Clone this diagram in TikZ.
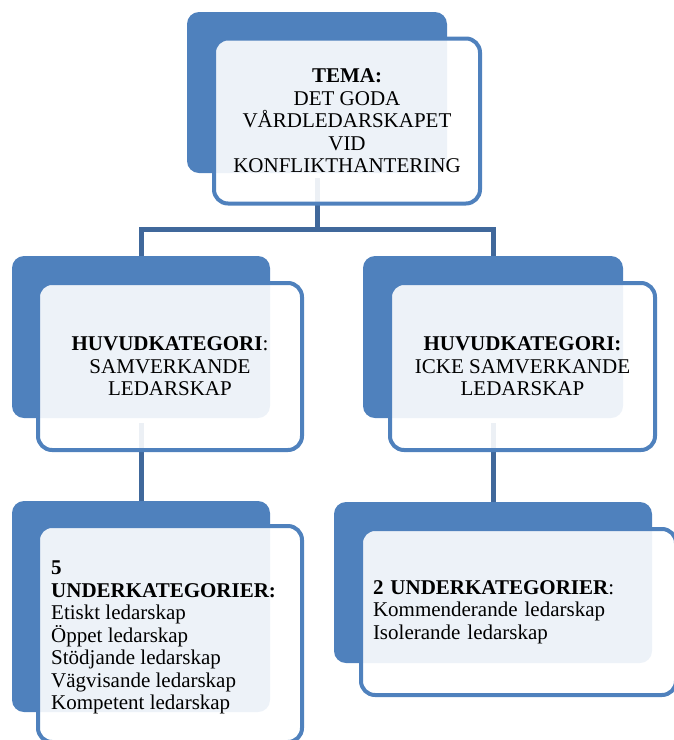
\documentclass[tikz,border=0pt]{standalone}
\usepackage{fontspec}
\setmainfont{Liberation Serif}
\pgfdeclarelayer{background}
\pgfsetlayers{background,main}
\definecolor{accblue}{RGB}{79,129,189}
\definecolor{connblue}{RGB}{64,104,155}
\tikzset{
  backbox/.style={rectangle, rounded corners=12pt, fill=accblue, inner sep=0pt},
  frontbox/.style={rectangle, rounded corners=14pt, draw=accblue, line width=4pt,
    fill=white, fill opacity=0.9, text opacity=1, draw opacity=1, inner sep=0pt,
    font=\fontsize{21}{22.5}\selectfont, text=black},
  boxtext/.style={inner sep=0pt, font=\fontsize{21}{22.5}\selectfont, text=black},
  conn/.style={draw=connblue, line width=5pt, line join=miter, line cap=rect}
}
\begin{document}
\begin{tikzpicture}[x=1pt,y=-1pt]
\useasboundingbox (0,0) rectangle (674,740);
\clip (0,0) rectangle (674,740);
% top
\node[backbox, minimum width=260pt, minimum height=161pt] (tb) at (317,92.5) {};
\node[frontbox, minimum width=266pt, minimum height=165pt, align=center] (tf) at (347,121)
  {\textbf{TEMA:}\\DET GODA\\VÅRDLEDARSKAPET\\VID\\KONFLIKTHANTERING};
% middle left
\node[backbox, minimum width=258pt, minimum height=162pt] (mlb) at (141,337) {};
\node[frontbox, minimum width=264pt, minimum height=167pt, align=center] (mlf) at (170,366.5)
  {\textbf{HUVUDKATEGORI}:\\SAMVERKANDE\\LEDARSKAP};
% middle right
\node[backbox, minimum width=260pt, minimum height=162pt] (mrb) at (493,337) {};
\node[frontbox, minimum width=265pt, minimum height=167pt, align=center] (mrf) at (522.5,366.5)
  {\textbf{HUVUDKATEGORI:}\\ICKE SAMVERKANDE\\LEDARSKAP};
% bottom left
\node[backbox, minimum width=258pt, minimum height=211pt] (blb) at (141,606.5) {};
\node[frontbox, minimum width=264pt, minimum height=216pt] (blf) at (170,634) {};
\node[boxtext, anchor=north west, align=left] (blt) at (51,561)
  {\textbf{5}\\\textbf{UNDERKATEGORIER:}\\Etiskt ledarskap\\Öppet ledarskap\\Stödjande ledarskap\\Vägvisande ledarskap\\Kompetent ledarskap};
% bottom right
\node[backbox, minimum width=318pt, minimum height=161pt] (brb) at (493,582.5) {};
\node[frontbox, minimum width=315pt, minimum height=166pt, inner xsep=12pt, text width=291pt, align=left] (brf) at (518.5,612)
  {\textbf{2 UNDERKATEGORIER}:\\Kommenderande ledarskap\\Isolerande ledarskap};
% connectors
\coordinate (bus) at (317,229.5);
\begin{pgfonlayer}{background}
\draw[conn] ([yshift=-7pt]tb.south) -- (bus) -| (mlb.north);
\draw[conn] (bus) -| (mrb.north);
\draw[conn] ([yshift=-7pt]mlb.south) -- (blb.north);
\draw[conn] ([yshift=-7pt]mrb.south) -- (brb.north);
\end{pgfonlayer}
\end{tikzpicture}
\end{document}
